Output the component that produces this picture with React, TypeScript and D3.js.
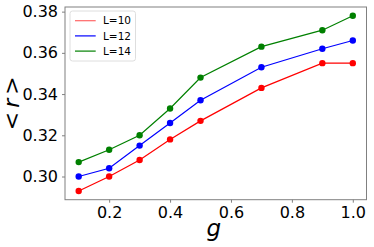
import { axisBottom, axisLeft, line, scaleLinear, select } from "d3";
import { useEffect, useRef } from "react";

const WIDTH = 374;
const HEIGHT = 247;
const MARGIN = { top: 7, right: 7.5, bottom: 47.3, left: 65 };

const gValues = [0.1, 0.2, 0.3, 0.4, 0.5, 0.7, 0.9, 1.0];
const l10 = [0.293, 0.3, 0.308, 0.318, 0.327, 0.343, 0.355, 0.355];
const l12 = [0.3, 0.304, 0.315, 0.326, 0.337, 0.353, 0.362, 0.366];
const l14 = [0.307, 0.313, 0.32, 0.333, 0.348, 0.363, 0.371, 0.378];
const seriesNames = ["L=10", "L=12", "L=14"];
const seriesColors = ["#ff0000", "#0000ff", "#008000"];
const xTicks = [0.2, 0.4, 0.6, 0.8, 1.0];
const yTicks = [0.3, 0.32, 0.34, 0.36, 0.38];

const FONT = "'DejaVu Sans', sans-serif";
const SPINE = "#808080";

function App() {
  const svgRef = useRef<SVGSVGElement | null>(null);

  useEffect(() => {
    const svg = select(svgRef.current);
    svg.selectAll("*").remove();

    const innerW = WIDTH - MARGIN.left - MARGIN.right;
    const innerH = HEIGHT - MARGIN.top - MARGIN.bottom;

    const x = scaleLinear().domain([0.055, 1.045]).range([0, innerW]);
    const y = scaleLinear().domain([0.28875, 0.38225]).range([innerH, 0]);

    const g = svg
      .append("g")
      .attr("transform", `translate(${MARGIN.left},${MARGIN.top})`);

    const allSeries = [l10, l12, l14];
    const path = line<number>()
      .x((_, i) => x(gValues[i]))
      .y((d) => y(d));

    allSeries.forEach((values, si) => {
      g.append("path")
        .attr("d", path(values) ?? "")
        .attr("fill", "none")
        .attr("stroke", seriesColors[si])
        .attr("stroke-width", 1.2);
      g.selectAll(null)
        .data(values)
        .enter()
        .append("circle")
        .attr("cx", (_, i) => x(gValues[i]))
        .attr("cy", (d) => y(d))
        .attr("r", 3.2)
        .attr("fill", seriesColors[si]);
    });

    // spines
    g.append("rect")
      .attr("x", 0)
      .attr("y", 0)
      .attr("width", innerW)
      .attr("height", innerH)
      .attr("fill", "none")
      .attr("stroke", SPINE)
      .attr("stroke-width", 1);

    const xAxis = g
      .append("g")
      .attr("transform", `translate(0,${innerH})`)
      .call(axisBottom(x).tickValues(xTicks).tickFormat((d) => Number(d).toFixed(1)).tickSize(3).tickPadding(4));
    const yAxis = g
      .append("g")
      .call(axisLeft(y).tickValues(yTicks).tickFormat((d) => Number(d).toFixed(2)).tickSize(3).tickPadding(4));

    [xAxis, yAxis].forEach((ax) => {
      ax.select(".domain").remove();
      ax.selectAll(".tick line").attr("stroke", SPINE);
      ax.selectAll(".tick text")
        .attr("fill", "#000")
        .style("font-family", FONT)
        .style("font-size", "16px");
    });

    // axis labels
    svg
      .append("text")
      .attr("x", MARGIN.left + innerW / 2 - 2)
      .attr("y", 236)
      .attr("text-anchor", "middle")
      .style("font-family", FONT)
      .style("font-size", "23px")
      .style("font-style", "italic")
      .text("g");

    svg
      .append("text")
      .attr("transform", `translate(19,${MARGIN.top + innerH / 2}) rotate(-90)`)
      .attr("text-anchor", "middle")
      .style("font-family", FONT)
      .style("font-size", "22px")
      .call((t) => {
        t.append("tspan").text("<");
        t.append("tspan").attr("dx", 4).style("font-style", "italic").text("r");
        t.append("tspan").attr("dx", 4).text(">");
      });

    // legend
    const legend = svg.append("g").attr("transform", "translate(70,11)");
    legend
      .append("rect")
      .attr("width", 65.5)
      .attr("height", 50)
      .attr("rx", 2.5)
      .attr("fill", "#fff")
      .attr("fill-opacity", 0.8)
      .attr("stroke", "#d6d6d6")
      .attr("stroke-width", 0.8);

    seriesNames.forEach((name, i) => {
      const row = legend.append("g").attr("transform", `translate(0,${9.7 + i * 15.2})`);
      row
        .append("line")
        .attr("x1", 5)
        .attr("x2", 25.7)
        .attr("stroke", seriesColors[i])
        .attr("stroke-opacity", i === 0 ? 0.6 : 1)
        .attr("stroke-width", 1.2);
      row
        .append("text")
        .attr("x", 33)
        .attr("dy", "0.36em")
        .style("font-family", FONT)
        .style("font-size", "10.5px")
        .text(name);
    });
  }, []);

  return (
    <svg
      ref={svgRef}
      width={WIDTH}
      height={HEIGHT}
      style={{ position: "absolute", left: 0, top: 0, background: "#fff" }}
    />
  );
}

export default App;
